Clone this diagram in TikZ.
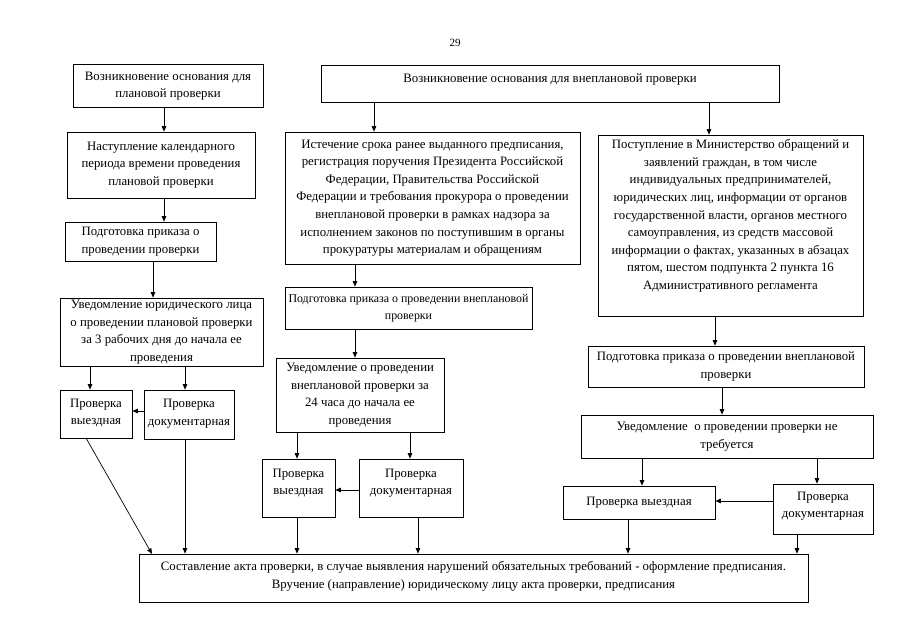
\documentclass[tikz,border=0pt]{standalone}
\usepackage{fontspec}
\setmainfont{Liberation Serif}
\usetikzlibrary{arrows.meta}
\tikzset{
  box/.style={draw, line width=0.7pt, align=center, inner sep=0pt,
    font=\fontsize{12.8}{17.6}\selectfont},
  arr/.style={draw, line width=0.7pt, -{Triangle[length=5.5pt,width=4.5pt]}},
}
\newcommand{\extradepth}[1]{\rule[-#1pt]{0pt}{0pt}}
\begin{document}
\begin{tikzpicture}[x=1pt,y=-1pt]
\useasboundingbox (0,0) rectangle (905,640);
\fill[white] (0,0) rectangle (905,640);
\node[font=\fontsize{11}{13}\selectfont] (pg) at (455,43) {29};

\node[box, minimum width=190, minimum height=43] (A) at (168,86) {Возникновение основания для\\плановой проверки};
\node[box, minimum width=188, minimum height=66] (A2) at (161,165) {Наступление календарного\\периода времени проведения\\плановой проверки};
\node[box, minimum width=151, minimum height=39] (A3) at (140.5,241.5) {Подготовка приказа о\\проведении проверки};
\node[box, minimum width=203, minimum height=68] (A4) at (161.5,332) {Уведомление юридического лица\\о проведении плановой проверки\\за 3 рабочих дня до начала ее\\проведения};
\node[box, minimum width=72, minimum height=48] (A5) at (96,414) {Проверка\\выездная\extradepth{4}};
\node[box, minimum width=90, minimum height=49] (A6) at (189,414.5) {Проверка\\документарная\extradepth{4}};

\node[box, minimum width=458, minimum height=37] (B) at (550,83.5) {Возникновение основания для внеплановой проверки\extradepth{11}};
\node[box, minimum width=295, minimum height=132] (C) at (432.5,198) {Истечение срока ранее выданного предписания,\\регистрация поручения Президента Российской\\Федерации, Правительства Российской\\Федерации и требования прокурора о проведении\\внеплановой проверки в рамках надзора за\\исполнением законов по поступившим в органы\\прокуратуры материалам и обращениям};
\node[box, minimum width=265, minimum height=181] (D) at (730.5,225.5) {Поступление в Министерство обращений и\\заявлений граждан, в том числе\\индивидуальных предпринимателей,\\юридических лиц, информации от органов\\государственной власти, органов местного\\самоуправления, из средств массовой\\информации о фактах, указанных в абзацах\\пятом, шестом подпункта 2 пункта 16\\Административного регламента\extradepth{22}};
\node[box, minimum width=247, minimum height=42, font=\fontsize{11.9}{17.6}\selectfont] (C2) at (408.5,308) {Подготовка приказа о проведении внеплановой\\проверки};
\node[box, minimum width=168, minimum height=74] (C3) at (360,395) {Уведомление о проведении\\внеплановой проверки за\\24 часа до начала ее\\проведения};
\node[box, minimum width=73, minimum height=58] (C4) at (298.5,488) {Проверка\\выездная\extradepth{12}};
\node[box, minimum width=104, minimum height=58] (C5) at (411,488) {Проверка\\документарная\extradepth{12}};
\node[box, minimum width=276, minimum height=41] (D2) at (726,366.5) {Подготовка приказа о проведении внеплановой\\проверки};
\node[box, minimum width=292, minimum height=43] (D3) at (727,436.5) {Уведомление \ о проведении проверки не\\требуется};
\node[box, minimum width=152, minimum height=33] (D4) at (639,502.5) {Проверка выездная};
\node[box, minimum width=100, minimum height=50] (D5) at (823,509) {Проверка\\документарная\extradepth{8}};
\node[box, minimum width=669, minimum height=48] (E) at (473.5,578) {Составление акта проверки, в случае выявления нарушений обязательных требований - оформление предписания.\\Вручение (направление) юридическому лицу акта проверки, предписания\extradepth{6}};

% column x positions
\coordinate (x164) at (164,0);
\coordinate (x153) at (153,0);
\coordinate (x90) at (90,0);
\coordinate (x185) at (185,0);
\coordinate (x374) at (374,0);
\coordinate (x355) at (355,0);
\coordinate (x297) at (297,0);
\coordinate (x410) at (410,0);
\coordinate (x418) at (418,0);
\coordinate (x709) at (709,0);
\coordinate (x715) at (715,0);
\coordinate (x722) at (722,0);
\coordinate (x642) at (642,0);
\coordinate (x817) at (817,0);
\coordinate (x628) at (628,0);
\coordinate (x797) at (797,0);
\coordinate (y411) at (0,411);
\coordinate (y490) at (0,490);
\coordinate (y501) at (0,501);
\coordinate (dA) at (86,438);
\coordinate (dE) at (152,554);

\draw[arr] (A.south -| x164) -- (A2.north -| x164);
\draw[arr] (A2.south -| x164) -- (A3.north -| x164);
\draw[arr] (A3.south -| x153) -- (A4.north -| x153);
\draw[arr] (A4.south -| x90) -- (A5.north -| x90);
\draw[arr] (A4.south -| x185) -- (A6.north -| x185);
\draw[arr] (A6.west |- y411) -- (A5.east |- y411);
\draw[arr] (dA) -- (dE);
\draw[arr] (A6.south -| x185) -- (E.north -| x185);

\draw[arr] (B.south -| x374) -- (C.north -| x374);
\draw[arr] (C.south -| x355) -- (C2.north -| x355);
\draw[arr] (C2.south -| x355) -- (C3.north -| x355);
\draw[arr] (C3.south -| x297) -- (C4.north -| x297);
\draw[arr] (C3.south -| x410) -- (C5.north -| x410);
\draw[arr] (C5.west |- y490) -- (C4.east |- y490);
\draw[arr] (C4.south -| x297) -- (E.north -| x297);
\draw[arr] (C5.south -| x418) -- (E.north -| x418);

\draw[arr] (B.south -| x709) -- (D.north -| x709);
\draw[arr] (D.south -| x715) -- (D2.north -| x715);
\draw[arr] (D2.south -| x722) -- (D3.north -| x722);
\draw[arr] (D3.south -| x642) -- (D4.north -| x642);
\draw[arr] (D3.south -| x817) -- (D5.north -| x817);
\draw[arr] (D5.west |- y501) -- (D4.east |- y501);
\draw[arr] (D4.south -| x628) -- (E.north -| x628);
\draw[arr] (D5.south -| x797) -- (E.north -| x797);
\end{tikzpicture}
\end{document}
